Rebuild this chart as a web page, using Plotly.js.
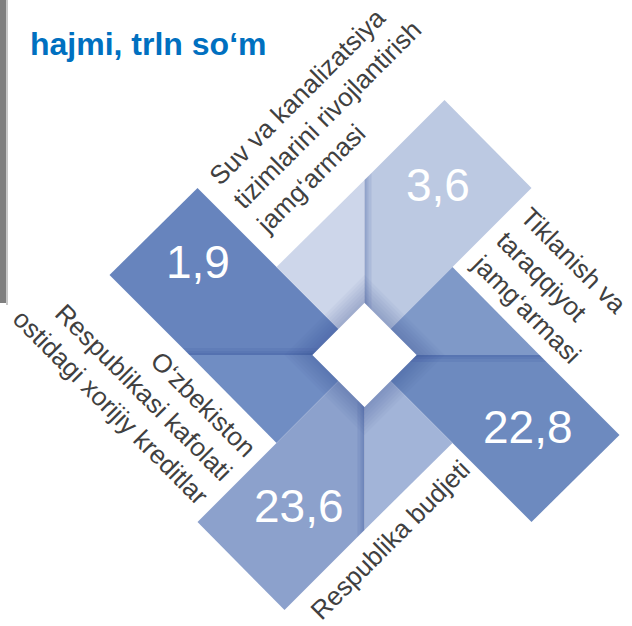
<!DOCTYPE html>
<html><head><meta charset="utf-8">
<script src="https://cdn.plot.ly/plotly-3.0.1.min.js"></script>
<style>html,body{margin:0;padding:0;background:#fff;overflow:hidden}#chart{width:632px;height:626px}</style>
</head><body><div id="chart"></div>
<script>
// ---------- DATA ----------
const categories = [
  'Suv va kanalizatsiya<br>tizimlarini rivojlantirish<br>jamg‘armasi',
  'Tiklanish va<br>taraqqiyot<br>jamg‘armasi',
  'Respublika budjeti',
  'O‘zbekiston<br>Respublikasi kafolati<br>ostidagi xorijiy kreditlar'
];
const values = [1.9, 3.6, 22.8, 23.6];
const titleText = 'hajmi, trln so‘m';

// ---------- LAYOUT / STYLE CONSTANTS ----------
const W = 632, H = 626;
const cx = 364.5, cy = 355;          // pinwheel centre (px)
const s = 52;                          // centre diamond half-diagonal
// template blade (upper-left), relative to centre; other blades are 90° rotations
const mainT = [[-26,-26],[-167,-167],[-255,-80],[-175,0],[-52,0]];
const foldT = [[-52,0],[-175,0],[-88,88],[-26,26]];
const mainColors = ['#6784BD','#BCC9E2','#6D8ABF','#8CA1CC'];
const foldColors = ['#708DC3','#CDD6EA','#7F99C8','#A2B4D8'];
const valuePos = [[198,262],[438,185],[528,427],[299,506]];
const labelPos = [[327,115],[550,285],[390,540],[134,383]];
const labelAngle = [-45,45,-45,45];
const labelAlign = ['left','left','center','right'];

function rot(p,k){let x=p[0],y=p[1];for(let i=0;i<k;i++){const t=x;x=-y;y=t;}return [x,y];}
function poly(pts,k){const r=pts.map(p=>rot(p,k));r.push(r[0]);return {x:r.map(p=>cx+p[0]),y:r.map(p=>cy+p[1])};}
function fillTrace(pts,k,color){const p=poly(pts,k);return {type:'scatter',mode:'lines',x:p.x,y:p.y,fill:'toself',fillcolor:color,line:{width:0},hoverinfo:'skip',showlegend:false};}

const traces = [];
values.forEach((v,k)=>{
  traces.push(fillTrace(mainT,k,mainColors[k]));
  traces.push(fillTrace(foldT,k,foldColors[k]));
});
// seam shading (stacked translucent strips on the main side of each seam)
values.forEach((v,k)=>{
  [2,4,7].forEach(w=>{
    traces.push(fillTrace([[-175,0],[-52,0],[-52+w,-w],[-175-w,-w]],k,'rgba(40,70,150,0.10)'));
  });
});
// glow round the centre diamond
for(let j=7;j>=1;j--){
  const r=s+4*j;
  traces.push(fillTrace([[0,-r],[r,0],[0,r],[-r,0]],0,'rgba(40,70,150,0.045)'));
}
// white centre diamond
traces.push(fillTrace([[0,-s],[s,0],[0,s],[-s,0]],0,'#FFFFFF'));

const annotations = [];
values.forEach((v,k)=>{
  annotations.push({x:valuePos[k][0],y:valuePos[k][1],xref:'x',yref:'y',showarrow:false,
    text:v.toFixed(1).replace('.',','),xanchor:'center',yanchor:'middle',
    font:{family:'Arial, "Liberation Sans", sans-serif',size:46,color:'#FFFFFF'}});
  annotations.push({x:labelPos[k][0],y:labelPos[k][1],xref:'x',yref:'y',showarrow:false,
    text:categories[k],textangle:labelAngle[k],align:labelAlign[k],xanchor:'center',yanchor:'middle',
    font:{family:'Arial, "Liberation Sans", sans-serif',size:26,color:'#404040'}});
});

const layout = {
  width:W,height:H,margin:{l:0,r:0,t:0,b:0,pad:0},
  paper_bgcolor:'#FFFFFF',plot_bgcolor:'#FFFFFF',
  title:{text:'<b>'+titleText+'</b>',xref:'container',yref:'container',x:30/W,xanchor:'left',y:1-44/H,yanchor:'middle',
    font:{family:'Arial, "Liberation Sans", sans-serif',size:32,color:'#0070C0'}},
  xaxis:{range:[0,W],visible:false,fixedrange:true},
  yaxis:{range:[H,0],visible:false,fixedrange:true},
  shapes:[
    {type:'rect',xref:'x',yref:'y',x0:0,x1:6,y0:0,y1:303,fillcolor:'#7F7F7F',line:{width:0},layer:'below'},
    {type:'rect',xref:'x',yref:'y',x0:6,x1:8,y0:0,y1:305,fillcolor:'#C8C8C8',line:{width:0},layer:'below'}
  ],
  annotations:annotations,
  showlegend:false,hovermode:false
};
Plotly.newPlot('chart',traces,layout,{staticPlot:true,displayModeBar:false});
</script></body></html>
